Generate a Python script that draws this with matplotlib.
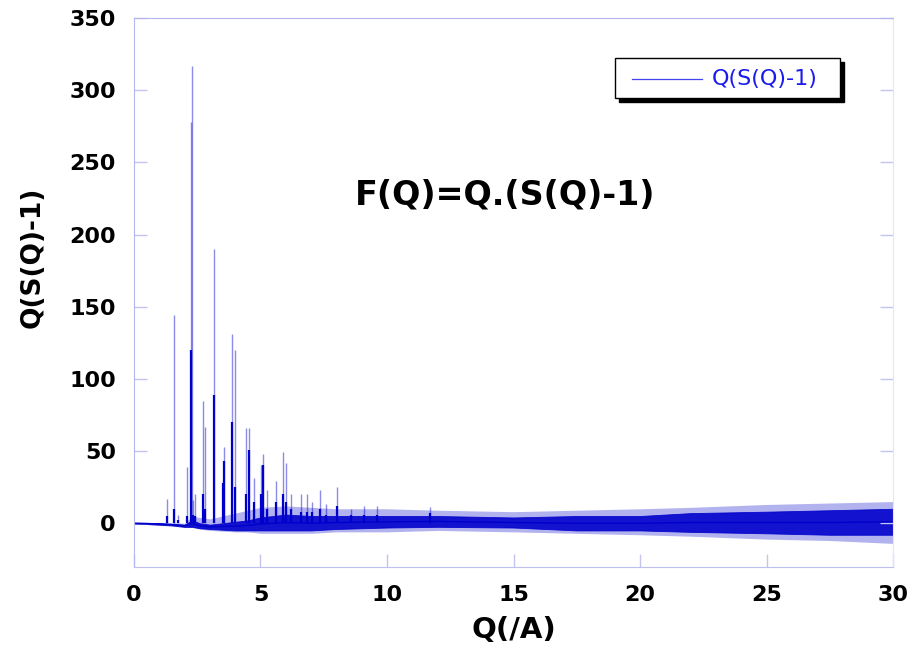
import numpy as np
import matplotlib.pyplot as plt
from matplotlib.patches import Rectangle
from matplotlib.lines import Line2D

# Envelope of the noisy background
band_q = [0, 0.5, 1.0, 1.5, 2.0, 2.3, 2.6, 3.0, 3.5, 4.0, 4.5, 5.0, 6, 7, 8, 9, 10,
          12, 15, 17.5, 20, 22, 25, 27.5, 30]
band_lo = [-0.3, -0.6, -1, -1.5, -2.5, -2.5, -3.5, -4, -4.5, -5, -5, -5, -5, -5, -4, -3.5, -3,
           -2.5, -3, -5, -5, -6, -7, -8, -8]
band_hi = [0.3, 0.2, 0, -0.5, -1, 2, 0, -1, 0, 1, 2, 4, 6, 5, 5, 5, 5,
           5, 4, 5, 5, 7, 8, 9, 10]
wide_lo = [-0.5, -0.8, -1.5, -2, -3, -3, -4, -5, -5.5, -6, -6, -7, -7, -7, -6, -6, -6,
           -5, -6, -7, -8, -9, -11, -12, -14]
wide_hi = [0.5, 0.5, 0.5, 0.5, 0, 5, 4, 3, 5, 7, 9, 11, 12, 11, 10, 10, 10,
           9, 8, 9, 10, 11, 13, 14, 15]

# Bragg-like spikes: position, top, top of the dense part
peak_q = [1.30, 1.59, 1.75, 2.11, 2.26, 2.28, 2.33, 2.40, 2.74, 2.82, 3.17, 3.50, 3.57,
          3.87, 4.00, 4.44, 4.56, 4.75, 5.02, 5.08, 5.26, 5.63, 5.90, 6.00, 6.20,
          6.60, 6.82, 7.05, 7.37, 7.60, 8.04, 8.57, 9.10, 9.60, 11.7]
peak_top = [17, 144, 6, 39, 278, 317, 16, 20, 85, 67, 190, 30, 53,
            131, 120, 66, 66, 31, 40, 48, 23, 29, 49, 42, 20,
            20, 20, 15, 23, 13, 25, 10, 12, 12, 11]
peak_core = [5, 10, 2, 5, 120, 0, 6, 5, 20, 10, 89, 28, 43,
             70, 25, 20, 51, 15, 20, 40, 10, 15, 20, 15, 10,
             8, 8, 8, 10, 6, 12, 6, 6, 6, 7]

blue = '#0000cc'
fig = plt.figure(figsize=(9.12, 6.52), dpi=100)
ax = fig.add_axes([0.1469, 0.1311, 0.8323, 0.8413])

ax.fill_between(band_q, wide_lo, wide_hi, color=blue, alpha=0.3, linewidth=0)
ax.fill_between(band_q, band_lo, band_hi, color=blue, alpha=0.9, linewidth=0.6)
ax.plot(band_q, np.add(band_lo, band_hi) / 2, color=blue, linewidth=1)
ax.vlines(peak_q, 0, peak_top, color=blue, alpha=0.45, linewidth=1)
ax.vlines(peak_q, 0, peak_core, color=blue, linewidth=1.6)

ax.set_xlim(0, 30)
ax.set_ylim(-30, 350)
ax.set_xticks(range(0, 31, 5))
ax.set_yticks(range(0, 351, 50))
ax.tick_params(direction='in', length=9.5, width=1, color='#c4c4f2',
               right=True, labelsize=16, pad=13)
for lab in ax.get_xticklabels() + ax.get_yticklabels():
    lab.set_fontweight('bold')
ax.spines['left'].set_color('#b8b8f0')
ax.spines['bottom'].set_color('#c0c0f0')
ax.spines['top'].set_color('#b4b4f0')
ax.spines['right'].set_color('#e4e4fa')

ax.set_xlabel('Q(/A)', fontsize=21, fontweight='bold', labelpad=8)
ax.set_ylabel('Q(S(Q)-1)', fontsize=19, fontweight='bold')
ax.yaxis.set_label_coords(-0.117, 0.564)

ax.text(0.489, 0.677, 'F(Q)=Q.(S(Q)-1)', transform=ax.transAxes, fontsize=24,
        fontweight='bold', ha='center', va='center')

# legend box with black drop shadow
W, H = 912, 652
fig.patches.append(Rectangle((619 / W, 1 - 102 / H), 225 / W, 40 / H,
                             transform=fig.transFigure, facecolor='black',
                             edgecolor='black', zorder=5))
fig.patches.append(Rectangle((615 / W, 1 - 98 / H), 225 / W, 40 / H,
                             transform=fig.transFigure, facecolor='white',
                             edgecolor='black', linewidth=1, zorder=6))
fig.lines.append(Line2D([632 / W, 702 / W], [1 - 79 / H, 1 - 79 / H],
                        transform=fig.transFigure, color='#4444ee', linewidth=0.9, zorder=7))
fig.text(712 / W, 1 - 79 / H, 'Q(S(Q)-1)', color='#1a1aee', fontsize=16,
         ha='left', va='center', zorder=7)

fig.savefig('out.png', dpi=100)
